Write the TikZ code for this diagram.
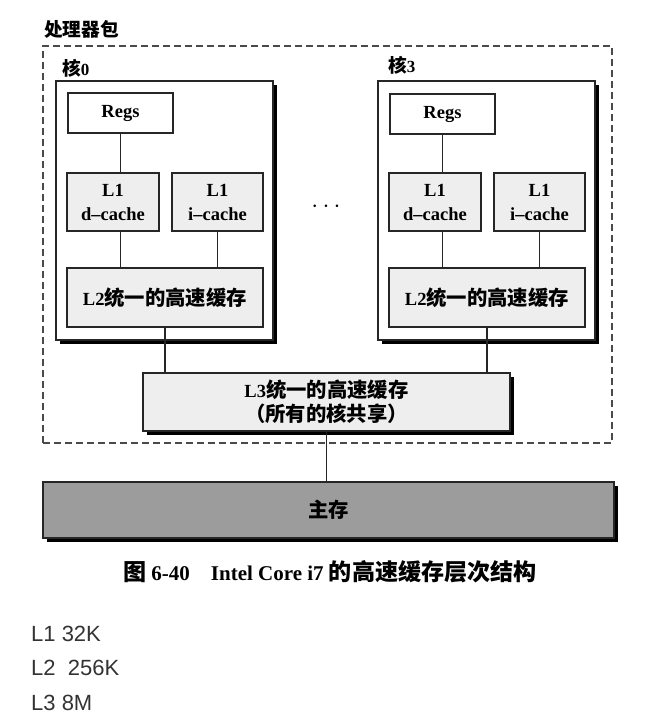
\documentclass[tikz,border=0pt]{standalone}
\usepackage{fontspec}
\setmainfont{Liberation Serif}
\newfontfamily\cjk[Scale=1.1]{Noto Sans CJK SC}
\newfontfamily\notefont{Liberation Sans}
\usetikzlibrary{positioning,shadows}
\definecolor{boxline}{HTML}{262626}
\definecolor{cachefill}{HTML}{EEEEEE}
\definecolor{memfill}{HTML}{9C9C9C}
\definecolor{pkgline}{HTML}{4A4A4A}
\definecolor{notegray}{HTML}{333333}

\begin{document}
\begin{tikzpicture}[x=1pt,y=-1pt,
    every node/.style={font=\fontsize{18.5}{24}\selectfont\bfseries},
    blockshadow/.style={drop shadow={shadow xshift=4pt,shadow yshift=-4pt,opacity=1,fill=black}},
    corebox/.style={draw=boxline,line width=1.4pt,fill=white,minimum width=217pt,minimum height=259pt,blockshadow},
    cachebox/.style={draw=boxline,line width=1.4pt,fill=cachefill,align=center,inner sep=0pt},
    link/.style={boxline,line width=1.4pt},
    lbl/.style={font=\fontsize{17}{19}\selectfont\bfseries,inner sep=0pt,anchor=west},
    note/.style={font=\fontsize{22}{24}\notefont\color{notegray},inner sep=0pt,anchor=west}]
  \useasboundingbox (0,0) rectangle (648,721);
  % processor package
  \node[draw=pkgline,line width=1.3pt,dash pattern=on 7pt off 4pt,
    minimum width=569pt,minimum height=397pt] (pkg) at (327.5,244.5) {};
  \node[lbl] (pkglabel) at (44,29) {\cjk 处理器包};
  % core 0
  \node[corebox] (core0) at (164.5,210.5) {};
  \node[lbl] (core0label) at (62,68) {{\cjk 核}0};
  \node[draw=boxline,line width=1.4pt,fill=white,minimum width=105pt,minimum height=40pt]
    (regs0) at (120.5,113) {Regs};
  \node[cachebox,minimum width=92pt,minimum height=58pt] (l1d0) at (113,202) {L1\\d--cache};
  \node[cachebox,minimum width=91pt,minimum height=58pt] (l1i0) at (217.5,202) {L1\\i--cache};
  \node[cachebox,minimum width=196pt,minimum height=59pt] (l2c0) at (165,297.5) {L2{\cjk 统一的高速缓存}};
  % core 3
  \node[corebox] (core3) at (486.5,210.5) {};
  \node[lbl] (core3label) at (388,65) {{\cjk 核}3};
  \node[draw=boxline,line width=1.4pt,fill=white,minimum width=105pt,minimum height=40pt]
    (regs3) at (442.5,114) {Regs};
  \node[cachebox,minimum width=92pt,minimum height=58pt] (l1d3) at (435,202) {L1\\d--cache};
  \node[cachebox,minimum width=91pt,minimum height=58pt] (l1i3) at (539.5,202) {L1\\i--cache};
  \node[cachebox,minimum width=196pt,minimum height=59pt] (l2c3) at (487,297.5) {L2{\cjk 统一的高速缓存}};
  \node[font=\fontsize{24}{26}\selectfont] (dots) at (326,207) {$\cdots$};
  % shared cache and memory
  \node[cachebox,minimum width=367pt,minimum height=58pt,blockshadow] (l3) at (326.5,402)
    {L3{\cjk 统一的高速缓存}\\{\cjk （所有的核共享）}};
  \node[draw=boxline,line width=1.4pt,fill=memfill,minimum width=571pt,minimum height=56pt,
    blockshadow] (mem) at (328.5,510) {\cjk 主存};
  \draw[link] (regs0.south) -- (regs0.south |- l1d0.north);
  \draw[link] (regs0.south |- l1d0.south) -- (regs0.south |- l2c0.north);
  \draw[link] (l1i0.south) -- (l1i0.south |- l2c0.north);
  \draw[link] (l2c0.south) -- (l2c0.south |- l3.north);
  \draw[link] (regs3.south) -- (regs3.south |- l1d3.north);
  \draw[link] (regs3.south |- l1d3.south) -- (regs3.south |- l2c3.north);
  \draw[link] (l1i3.south) -- (l1i3.south |- l2c3.north);
  \draw[link] (l2c3.south) -- (l2c3.south |- l3.north);
  \draw[link] (l3.south) -- (l3.south |- mem.north);
  % caption and notes
  \node[font=\fontsize{21}{24}\selectfont\bfseries] (caption) at (330,572)
    {{\cjk 图} 6-40\quad Intel Core i7 {\cjk 的高速缓存层次结构}};
  \node[note] (noteone) at (31,634) {L1 32K};
  \node[note] (notetwo) at (31,668) {L2\ \ 256K};
  \node[note] (notethree) at (31,703) {L3 8M};
\end{tikzpicture}
\end{document}
